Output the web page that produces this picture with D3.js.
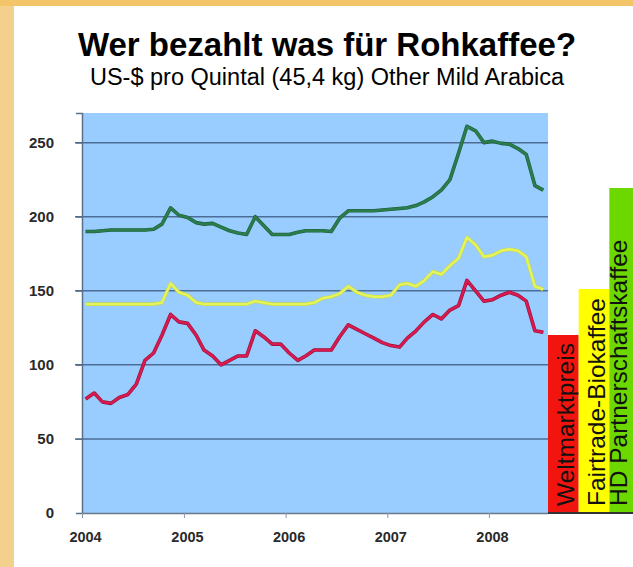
<!DOCTYPE html>
<html>
<head>
<meta charset="utf-8">
<script src="https://cdn.jsdelivr.net/npm/d3@7"></script>
<style>
  body { margin: 0; background: #f3d08c; }
  svg { display: block; }
</style>
</head>
<body>
<svg id="chart" width="633" height="567"></svg>
<script>
// monthly prices, Jan 2004 - Jul 2008 (US-$ per quintal)
var months = [
  "2004-01","2004-02","2004-03","2004-04","2004-05","2004-06","2004-07","2004-08","2004-09","2004-10","2004-11","2004-12",
  "2005-01","2005-02","2005-03","2005-04","2005-05","2005-06","2005-07","2005-08","2005-09","2005-10","2005-11","2005-12",
  "2006-01","2006-02","2006-03","2006-04","2006-05","2006-06","2006-07","2006-08","2006-09","2006-10","2006-11","2006-12",
  "2007-01","2007-02","2007-03","2007-04","2007-05","2007-06","2007-07","2007-08","2007-09","2007-10","2007-11","2007-12",
  "2008-01","2008-02","2008-03","2008-04","2008-05","2008-06","2008-07"
];

var weltmarkt = [
  77, 81, 75, 74, 78, 80, 87, 103, 108, 120, 134, 129,
  128, 120, 110, 106, 100, 103, 106, 106, 123, 119, 114, 114,
  108, 103, 106, 110, 110, 110, 119, 127, 124, 121, 118, 115,
  113, 112, 118, 123, 129, 134, 131, 137, 140, 157, 150, 143,
  144, 147, 149, 147, 143, 123, 122
];

var fairtrade = [
  141, 141, 141, 141, 141, 141, 141, 141, 141, 142, 155, 149,
  147, 142, 141, 141, 141, 141, 141, 141, 143, 142, 141, 141,
  141, 141, 141, 142, 145, 146, 148, 153, 149, 147, 146, 146,
  147, 154, 155, 153, 157, 163, 161, 167, 172, 186, 181, 173,
  174, 177, 178, 177, 173, 153, 151
];

var partnerschaft = [
  190, 190, 190.5, 191, 191, 191, 191, 191, 191.5, 195, 206, 201,
  199.5, 196, 195, 195.5, 193, 190.5, 189, 188, 200, 194, 188, 188,
  188, 189.5, 190.5, 190.5, 190.5, 190, 199, 204, 204, 204, 204, 204.5,
  205, 205.5, 206, 207.5, 210, 213.5, 218, 225, 243, 261, 258, 250,
  251, 249.5, 249, 246, 242, 221, 218
];

var yTicks = [0, 50, 100, 150, 200, 250];
var xTicks = ["2004", "2005", "2006", "2007", "2008"];

var legendNames = ["Weltmarktpreis", "Fairtrade-Biokaffee", "HD Partnerschaftskaffee"];
var legendTops = [335, 289, 188];

var svg = d3.select("#chart");

// white panel over the orange background
svg.append("rect").attr("x", 0).attr("y", 0).attr("width", 633).attr("height", 6).attr("fill", "#f1c568");
svg.append("rect").attr("x", 14).attr("y", 6).attr("width", 619).attr("height", 561).attr("fill", "#ffffff");

// title
svg.append("text")
  .attr("x", 327).attr("y", 56)
  .attr("text-anchor", "middle")
  .style("font-family", "Liberation Sans, Arial, sans-serif")
  .style("font-weight", "bold")
  .style("font-size", "33px")
  .text("Wer bezahlt was für Rohkaffee?");

svg.append("text")
  .attr("x", 327).attr("y", 85)
  .attr("text-anchor", "middle")
  .style("font-family", "Liberation Sans, Arial, sans-serif")
  .style("font-size", "23.5px")
  .text("US-$ pro Quintal (45,4 kg) Other Mild Arabica");

var parse = d3.timeParse("%Y-%m-%d");

var x = d3.scaleTime()
  .domain([parse("2004-01-01"), parse("2008-07-31")])
  .range([82, 548]);

var y = d3.scaleLinear()
  .domain([0, 270])
  .range([513, 113]);

// plot background
svg.append("rect")
  .attr("x", x.range()[0]).attr("y", y.range()[1])
  .attr("width", x.range()[1] - x.range()[0])
  .attr("height", y.range()[0] - y.range()[1])
  .attr("fill", "#99ccff");

// horizontal grid lines, reaching left as tick marks
svg.append("g").selectAll("line")
  .data(yTicks.filter(function(d){ return d > 0; }))
  .enter().append("line")
  .attr("x1", 75).attr("x2", 548)
  .attr("y1", function(d){ return y(d); })
  .attr("y2", function(d){ return y(d); })
  .attr("stroke", "#4d6c96")
  .attr("stroke-width", 1.5);

// y axis
var yAxis = svg.append("g")
  .attr("transform", "translate(" + x.range()[0] + ",0)")
  .call(d3.axisLeft(y).tickValues(yTicks).tickSize(6).tickPadding(22));
yAxis.select(".domain").attr("stroke", "#5a6f88").attr("stroke-width", 1.5);
yAxis.selectAll(".tick line").attr("stroke", "#5a6f88");
yAxis.selectAll("text")
  .style("font-family", "Liberation Sans, Arial, sans-serif")
  .style("font-weight", "bold")
  .style("font-size", "15px")
  .attr("fill", "#2a2a2a");

// x axis
var xAxis = svg.append("g")
  .attr("transform", "translate(0," + y.range()[0] + ")")
  .call(d3.axisBottom(x)
    .tickValues(xTicks.map(function(t){ return parse(t + "-01-01"); }))
    .tickFormat(d3.timeFormat("%Y"))
    .tickSizeInner(5).tickSizeOuter(0).tickPadding(14));
xAxis.select(".domain").attr("stroke", "#6a7a8a").attr("stroke-width", 1.5);
xAxis.selectAll(".tick line").attr("stroke", "#8a98a8");
xAxis.selectAll("text")
  .attr("dx", 3)
  .style("font-family", "Liberation Sans, Arial, sans-serif")
  .style("font-weight", "bold")
  .style("font-size", "14.5px")
  .attr("fill", "#2a2a2a");

// lines
var line = d3.line()
  .x(function(d){ return x(d.date); })
  .y(function(d){ return y(d.value); });

function series(values) {
  return values.map(function(v, i){ return { date: parse(months[i] + "-14"), value: v }; });
}

var lines = [
  { values: partnerschaft, color: "#2b7d4c", edge: "#1e5e3a" },
  { values: fairtrade, color: "#e4f55c", edge: "#c8d84c" },
  { values: weltmarkt, color: "#d81a50", edge: "#9a1038" }
];

lines.forEach(function(s){
  svg.append("path")
    .datum(series(s.values))
    .attr("fill", "none")
    .attr("stroke", s.edge)
    .attr("stroke-width", 3.6)
    .attr("stroke-linejoin", "round")
    .attr("d", line);
  svg.append("path")
    .datum(series(s.values))
    .attr("fill", "none")
    .attr("stroke", s.color)
    .attr("stroke-width", 2.4)
    .attr("stroke-linejoin", "round")
    .attr("d", line);
});

// legend boxes with vertical text
var legendColors = ["#f2150f", "#ffff00", "#6cd800"];
var legendLeft = d3.scaleBand().domain(legendNames).range([548, 640]).padding(0);

legendNames.forEach(function(name, i){
  var bx = legendLeft(name);
  svg.append("rect")
    .attr("x", bx).attr("y", legendTops[i])
    .attr("width", legendLeft.bandwidth())
    .attr("height", 513 - legendTops[i])
    .attr("fill", legendColors[i]);
  // keep the last label (descent included) inside the window
  var tx = Math.min(bx + 26, 627);
  svg.append("text")
    .attr("transform", "translate(" + tx + ",506) rotate(-90)")
    .style("font-family", "Liberation Sans, Arial, sans-serif")
    .style("font-size", "24.5px")
    .attr("fill", "#111")
    .text(name);
});

svg.append("line")
  .attr("x1", 548).attr("x2", 633)
  .attr("y1", 513).attr("y2", 513)
  .attr("stroke", "#333").attr("stroke-width", 2);
</script>
</body>
</html>
